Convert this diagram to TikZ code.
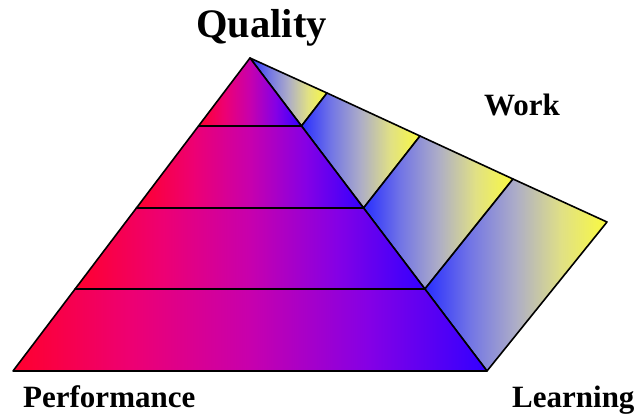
\documentclass[tikz,border=0pt]{standalone}
\usepackage{fontspec}
\setmainfont{Liberation Serif}
\usetikzlibrary{calc}
% red to violet-blue ramp for the pyramid tiers
\pgfdeclarehorizontalshading{tiershade}{100bp}{%
  rgb(0bp)=(1,0,0.18); rgb(25bp)=(1,0,0.18);
  rgb(37.5bp)=(0.93,0,0.45); rgb(50bp)=(0.78,0,0.68);
  rgb(62.5bp)=(0.52,0,0.9); rgb(75bp)=(0.2,0,1); rgb(100bp)=(0.2,0,1)}
% blue to yellow ramp for the side bands
\pgfdeclarehorizontalshading{bandshade}{100bp}{%
  rgb(0bp)=(0.16,0.18,1); rgb(25bp)=(0.16,0.18,1);
  rgb(37.5bp)=(0.45,0.46,0.9); rgb(50bp)=(0.68,0.68,0.78);
  rgb(62.5bp)=(0.88,0.88,0.52); rgb(75bp)=(0.98,0.98,0.25); rgb(100bp)=(0.98,0.98,0.25)}
\begin{document}
\begin{tikzpicture}[x=1pt,y=-1pt,
  edge/.style={draw=black,line width=1.6pt,line join=round},
  tier/.style={edge,shading=tiershade},
  band/.style={edge,shading=bandshade},
  lbl/.style={font=\bfseries,inner sep=0pt}]
  \useasboundingbox (0,0) rectangle (638,414);
  % pyramid corners
  \coordinate (A)  at (250,58);
  \coordinate (BL) at (13,371);
  \coordinate (BR) at (487,371);
  % tier boundaries on the left and right edges
  \coordinate (L1) at ($(A)!0.2173!(BL)$);
  \coordinate (L2) at ($(A)!0.4792!(BL)$);
  \coordinate (L3) at ($(A)!0.7380!(BL)$);
  \coordinate (R1) at ($(A)!0.2173!(BR)$);
  \coordinate (R2) at ($(A)!0.4792!(BR)$);
  \coordinate (R3) at ($(A)!0.7380!(BR)$);
  % outer edge of the side face
  \coordinate (Q1) at (327,93);
  \coordinate (Q2) at (420,136);
  \coordinate (Q3) at (513,179);
  \coordinate (Q4) at (607,222);
  % side bands
  \path[band] (A) -- (Q1) -- (R1) -- cycle;
  \path[band] (R1) -- (Q1) -- (Q2) -- (R2) -- cycle;
  \path[band] (R2) -- (Q2) -- (Q3) -- (R3) -- cycle;
  \path[band] (R3) -- (Q3) -- (Q4) -- (BR) -- cycle;
  % pyramid tiers
  \path[tier] (A) -- (R1) -- (L1) -- cycle;
  \path[tier] (L1) -- (R1) -- (R2) -- (L2) -- cycle;
  \path[tier] (L2) -- (R2) -- (R3) -- (L3) -- cycle;
  \path[tier] (L3) -- (R3) -- (BR) -- (BL) -- cycle;
  % labels
  \node[lbl,font=\bfseries\fontsize{40.5}{40.5}\selectfont,anchor=base] (quality) at (261.5,38) {Quality};
  \node[lbl,font=\bfseries\fontsize{31}{31}\selectfont,anchor=base] (work) at (522,116) {Work};
  \node[lbl,font=\bfseries\fontsize{31}{31}\selectfont,anchor=base west] (perf) at (23,407) {Performance};
  \node[lbl,font=\bfseries\fontsize{31}{31}\selectfont,anchor=base west] (learn) at (512,407) {Learning};
\end{tikzpicture}
\end{document}
